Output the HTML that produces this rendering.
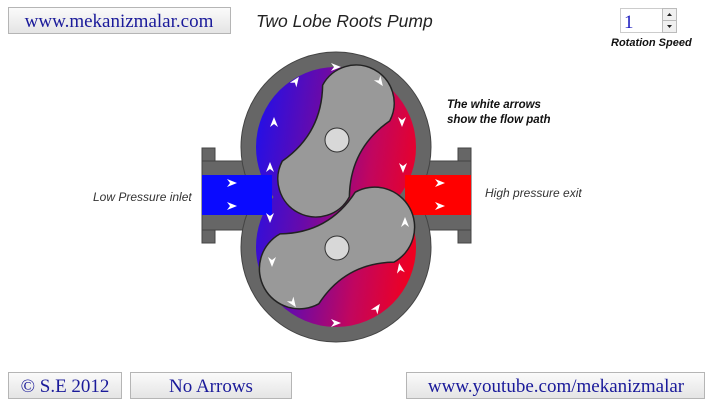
<!DOCTYPE html>
<html><head><meta charset="utf-8"><style>
html,body{margin:0;padding:0;background:#fff;width:720px;height:406px;overflow:hidden;font-family:"Liberation Sans",sans-serif}
</style></head><body>
<svg width="720" height="406" viewBox="0 0 720 406" xmlns="http://www.w3.org/2000/svg">
<defs>
<linearGradient id="btn" x1="0" y1="0" x2="0" y2="1"><stop offset="0" stop-color="#fbfbfb"/><stop offset="1" stop-color="#e4e4e4"/></linearGradient>
<linearGradient id="flow" x1="0" y1="0" x2="1" y2="0.15">
<stop offset="0" stop-color="#0a0aff"/><stop offset="0.2" stop-color="#1a10f0"/><stop offset="0.45" stop-color="#6a0aa8"/><stop offset="0.65" stop-color="#c00660"/><stop offset="0.85" stop-color="#f00020"/><stop offset="1" stop-color="#ff0000"/></linearGradient>
<clipPath id="ch"><circle cx="336" cy="147" r="80"/><circle cx="336" cy="247" r="80"/></clipPath>
<g id="arr"><path d="M-5,-4 L5,0 L-5,4 L-2,0 Z" fill="#fff"/></g>
</defs>
<rect x="8.5" y="7.5" width="222" height="26" fill="url(#btn)" stroke="#b5b5b5"/>
<text x="119" y="27" text-anchor="middle" font-family="Liberation Serif" font-size="19" fill="#1a1a9a">www.mekanizmalar.com</text>
<text x="256" y="27" font-size="17.5" font-style="italic" fill="#222">Two Lobe Roots Pump</text>
<rect x="620.5" y="8.5" width="56" height="24" fill="#fff" stroke="#ccc"/>
<rect x="662.5" y="8.5" width="14" height="24" fill="#f0f0f0" stroke="#bbb"/>
<line x1="662" y1="20.5" x2="677" y2="20.5" stroke="#bbb"/>
<path d="M667,16 L669.5,13 L672,16Z M667,25 L669.5,28 L672,25Z" fill="#222"/>
<text x="624" y="28" font-family="Liberation Serif" font-size="19" fill="#2020c0">1</text>
<text x="611" y="46" font-size="11" font-weight="bold" font-style="italic" fill="#111">Rotation Speed</text>
<rect x="202" y="148" width="13" height="95" fill="#666" stroke="#444"/>
<rect x="458" y="148" width="13" height="95" fill="#666" stroke="#444"/>
<rect x="202" y="161" width="60" height="69" fill="#666" stroke="#444"/>
<rect x="412" y="161" width="59" height="69" fill="#666" stroke="#444"/>
<circle cx="336" cy="147" r="95" fill="#666" stroke="#444"/>
<circle cx="336" cy="247" r="95" fill="#666" stroke="#444"/>
<rect x="250" y="140" width="172" height="110" fill="#666"/>
<g clip-path="url(#ch)"><rect x="200" y="50" width="280" height="300" fill="url(#flow)"/></g>
<rect x="202" y="175" width="70" height="40" fill="#0a0aff"/>
<rect x="405" y="175" width="66" height="40" fill="#ff0000"/>
<g transform="translate(336,141) rotate(-62)" fill="#999" stroke="#222" stroke-width="1.5">
<path d="M-43,-38 Q0,-16 43,-38 A38 38 0 0 1 43,38 Q0,16 -43,38 A38 38 0 0 1 -43,-38 Z"/></g>
<g transform="translate(337,248) rotate(-29)" fill="#999" stroke="#222" stroke-width="1.5">
<path d="M-43,-40 Q0,-17 43,-40 A40 40 0 0 1 43,40 Q0,17 -43,40 A40 40 0 0 1 -43,-40 Z"/></g>
<circle cx="337" cy="140" r="12" fill="#d8d8d8" stroke="#333"/>
<circle cx="337" cy="248" r="12" fill="#d8d8d8" stroke="#333"/>
<use href="#arr" transform="translate(232,183)"/><use href="#arr" transform="translate(232,206)"/>
<use href="#arr" transform="translate(440,183)"/><use href="#arr" transform="translate(440,206)"/>
<use href="#arr" transform="translate(270,167) rotate(-90)"/><use href="#arr" transform="translate(274,122) rotate(-90)"/>
<use href="#arr" transform="translate(296,81) rotate(-55)"/><use href="#arr" transform="translate(336,67)"/>
<use href="#arr" transform="translate(380,82) rotate(55)"/><use href="#arr" transform="translate(402,122) rotate(90)"/>
<use href="#arr" transform="translate(403,168) rotate(90)"/><use href="#arr" transform="translate(270,218) rotate(90)"/>
<use href="#arr" transform="translate(405,222) rotate(-90)"/><use href="#arr" transform="translate(400,268) rotate(-100)"/>
<use href="#arr" transform="translate(377,308) rotate(-55)"/><use href="#arr" transform="translate(336,323)"/>
<use href="#arr" transform="translate(293,303) rotate(55)"/><use href="#arr" transform="translate(272,262) rotate(90)"/>
<text x="93" y="201" font-size="12" font-style="italic" fill="#333">Low Pressure inlet</text>
<text x="485" y="197" font-size="12" font-style="italic" fill="#333">High pressure exit</text>
<text x="447" y="108" font-size="11.5" font-weight="bold" font-style="italic" fill="#111">The white arrows</text>
<text x="447" y="123" font-size="11.5" font-weight="bold" font-style="italic" fill="#111">show the flow path</text>
<rect x="8.5" y="372.5" width="113" height="26" fill="url(#btn)" stroke="#b5b5b5"/>
<text x="65" y="392" text-anchor="middle" font-family="Liberation Serif" font-size="19" fill="#1a1a9a">© S.E 2012</text>
<rect x="130.5" y="372.5" width="161" height="26" fill="url(#btn)" stroke="#b5b5b5"/>
<text x="211" y="392" text-anchor="middle" font-family="Liberation Serif" font-size="19" fill="#1a1a9a">No Arrows</text>
<rect x="406.5" y="372.5" width="298" height="26" fill="url(#btn)" stroke="#b5b5b5"/>
<text x="556" y="392" text-anchor="middle" font-family="Liberation Serif" font-size="19" fill="#1a1a9a">www.youtube.com/mekanizmalar</text>
</svg>
</body></html>
